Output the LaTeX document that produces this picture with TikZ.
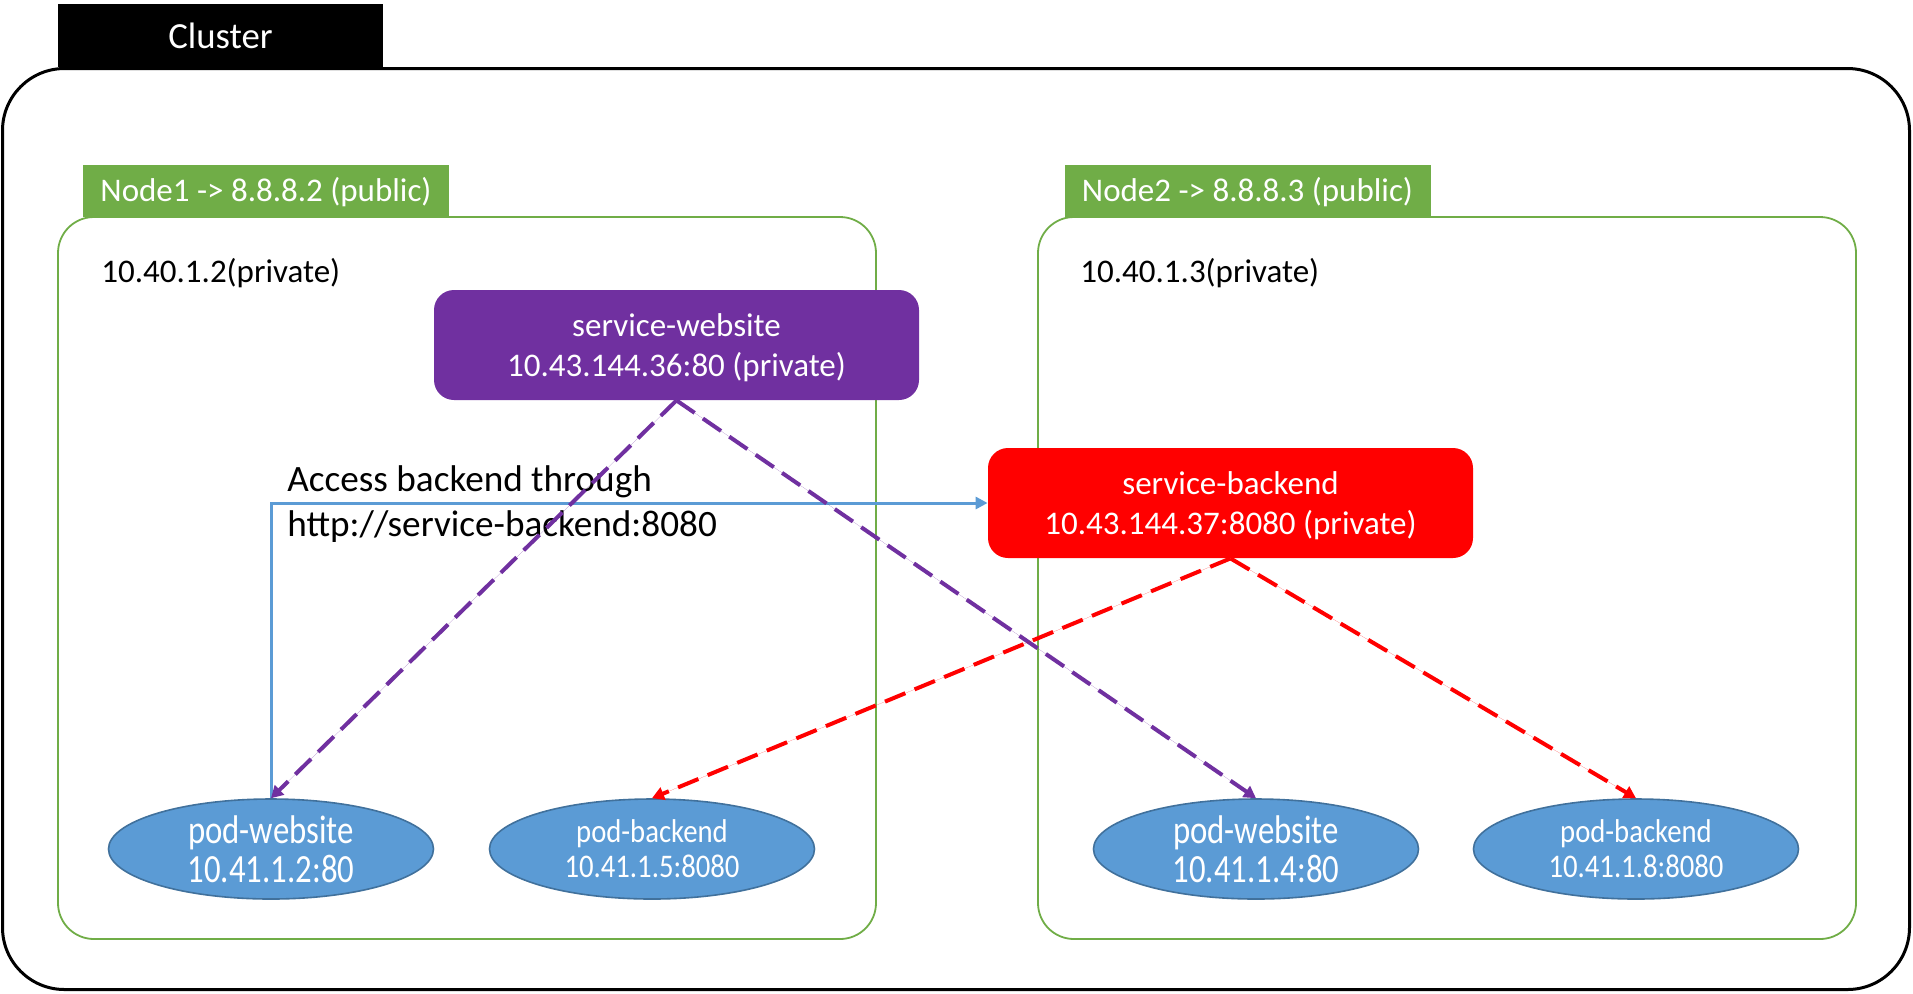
\documentclass[tikz,border=0pt]{standalone}
\usepackage{fontspec}
\setmainfont{Carlito}
\newfontfamily\podwide[FakeStretch=0.82]{Carlito}
\newfontfamily\podnarrow[FakeStretch=0.87]{Carlito}
\usepackage{xcolor}
\usepackage{tikz}
\usetikzlibrary{positioning, arrows.meta, shapes.geometric}
\definecolor{hostgreen}{HTML}{70AD47}
\definecolor{svcpurple}{HTML}{7030A0}
\definecolor{podblue}{HTML}{5B9BD5}
\definecolor{podedge}{HTML}{41719C}

\begin{document}
\begin{tikzpicture}[x=0.5pt, y=-0.5pt,
  tab/.style={fill=hostgreen, text=white, minimum width=183pt, minimum height=26pt, inner sep=0pt, text depth=1.5pt, font=\fontsize{16.5}{20}\selectfont},
  host/.style={draw=hostgreen, line width=0.9pt, rounded corners=18pt, minimum width=409pt, minimum height=361pt},
  service/.style={rounded corners=10pt, minimum width=242.5pt, minimum height=55pt, inner sep=0pt, text depth=0pt, text=white, align=center, font=\fontsize{16.5}{20}\selectfont},
  pod/.style={ellipse, fill=podblue, draw=podedge, line width=0.8pt, minimum width=162.5pt, minimum height=50pt, inner sep=0pt, text=white, align=center},
  ip/.style={anchor=west, inner sep=0pt, font=\fontsize{16.5}{20}\selectfont},
  link/.style={dash pattern=on 11pt off 5pt, line width=2pt, -{Triangle[length=6pt, width=6.5pt]}},
  access/.style={draw=podblue, line width=1.5pt, -{Triangle[length=6pt, width=6pt]}},
]

  \useasboundingbox (0,0) rectangle (1913,993);

  % Cluster
  \node[draw, line width=1.5pt, rounded corners=31pt, minimum width=953.5pt, minimum height=460.5pt] (cluster) at (956,529) {};
  \node[fill=black, text=white, minimum width=162.5pt, minimum height=31.5pt, inner sep=0pt, font=\fontsize{18.4}{22}\selectfont] (clustertab) at (220.5,35.5) {Cluster};

  % Hosts
  \node[host] (host1) at (467,578) {};
  \node[host] (host2) at (1447,578) {};
  \node[tab] (host1tab) at (266,191) {Node1 -> 8.8.8.2 (public)};
  \node[tab] (host2tab) at (1247.5,191) {Node2 -> 8.8.8.3 (public)};
  \node[ip] (host1ip) at (101,273) {10.40.1.2(private)};
  \node[ip] (host2ip) at (1080,273) {10.40.1.3(private)};

  % Services
  \node[service, fill=svcpurple] (svcweb) at (676.5,345) {service-website\\10.43.144.36:80 (private)};
  \node[service, fill=red] (svcback) at (1230.5,503) {service-backend\\10.43.144.37:8080 (private)};

  % Pods
  \node[pod, font=\podwide\fontsize{20}{19.5}\selectfont] (podweb1) at (271,849) {pod-website\\10.41.1.2:80};
  \node[pod, font=\podnarrow\fontsize{16.5}{17.5}\selectfont] (podback1) at (652,849) {pod-backend\\10.41.1.5:8080};
  \node[pod, font=\podwide\fontsize{20}{19.5}\selectfont] (podweb2) at (1256,849) {pod-website\\10.41.1.4:80};
  \node[pod, font=\podnarrow\fontsize{16.5}{17.5}\selectfont] (podback2) at (1636,849) {pod-backend\\10.41.1.8:8080};

  % Access label
  \node[anchor=west, inner sep=0pt, align=left, font=\fontsize{18.6}{22.5}\selectfont] (accesslabel) at (287,504) {Access backend through\\http://service-backend:8080};

  % Connections
  \draw[access] (podweb1.north) |- (svcback.west);
  \draw[link, draw=svcpurple, fill=svcpurple] (svcweb.south) -- (podweb1.north);
  \draw[link, draw=svcpurple, fill=svcpurple] (svcweb.south) -- (podweb2.north);
  \draw[link, draw=red, fill=red] (svcback.south) -- (podback1.north);
  \draw[link, draw=red, fill=red] (svcback.south) -- (podback2.north);

\end{tikzpicture}
\end{document}
